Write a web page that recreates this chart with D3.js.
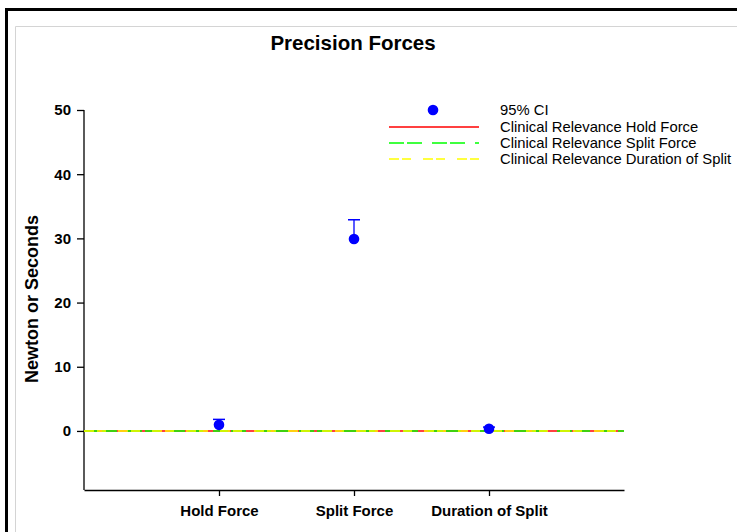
<!DOCTYPE html>
<html>
<head>
<meta charset="utf-8">
<script src="https://cdn.jsdelivr.net/npm/d3@7"></script>
<style>
  body { margin: 0; background: #fff; }
  text { font-family: Arial, "Liberation Sans", sans-serif; }
</style>
</head>
<body>
<svg id="chart" width="737" height="532"></svg>
<script>
var categories = ["Hold Force", "Split Force", "Duration of Split"];
var means = [0.95, 29.9, 0.35];
var upperCI = [1.8, 32.9, 0.6];
var yTicks = [0, 10, 20, 30, 40, 50];
var relevance = [
  { name: "Clinical Relevance Hold Force", value: 0, color: "#ff0000", dash: null },
  { name: "Clinical Relevance Split Force", value: 0, color: "#00ff00", dash: "15,3,15,10" },
  { name: "Clinical Relevance Duration of Split", value: 0, color: "#ffff00", dash: "10,3,9,12" }
];

var svg = d3.select("#chart");

// outer frame like the screenshot
svg.append("path")
  .attr("d", "M6.5,532 V9.5 H737")
  .attr("fill", "none")
  .attr("stroke", "#000")
  .attr("stroke-width", 3);
svg.append("path")
  .attr("d", "M15.5,532 V26.5 H737")
  .attr("fill", "none")
  .attr("stroke", "#d4d4d4")
  .attr("stroke-width", 1);

var xScale = d3.scaleLinear().domain([0, 4]).range([84, 624]);
var yScale = d3.scaleLinear().domain([-9.2, 50]).range([490, 110]);

svg.append("text")
  .attr("x", 353)
  .attr("y", 50)
  .attr("text-anchor", "middle")
  .style("font-size", "20.5px")
  .style("font-weight", "bold")
  .text("Precision Forces");

var yAxis = svg.append("g")
  .attr("transform", "translate(84,0)")
  .call(d3.axisLeft(yScale).tickValues(yTicks).tickSize(7).tickPadding(6).tickSizeOuter(0));

var xAxis = svg.append("g")
  .attr("transform", "translate(0,490)")
  .call(d3.axisBottom(xScale).tickValues([1, 2, 3])
    .tickFormat(function(d) { return categories[d - 1]; })
    .tickSize(6).tickPadding(9).tickSizeOuter(0));

[yAxis, xAxis].forEach(function(ax) {
  ax.select(".domain").attr("stroke", "#000").attr("stroke-width", 1.3);
  ax.selectAll(".tick line").attr("stroke", "#000").attr("stroke-width", 1.3);
  ax.selectAll(".tick text")
    .attr("fill", "#000")
    .style("font-size", "15px")
    .style("font-weight", "bold")
    .style("font-family", "Arial, 'Liberation Sans', sans-serif");
});
// y axis domain only spans top to bottom without outer tick
yAxis.select(".domain").attr("d", "M0," + yScale(50) + "V" + yScale(-9.2));

svg.append("text")
  .attr("transform", "rotate(-90)")
  .attr("x", -299)
  .attr("y", 38)
  .attr("text-anchor", "middle")
  .style("font-size", "18px")
  .style("font-weight", "bold")
  .text("Newton or Seconds");

// clinical relevance lines
svg.selectAll(".rel")
  .data(relevance)
  .enter().append("line")
  .attr("class", "rel")
  .attr("x1", xScale(0))
  .attr("x2", xScale(4))
  .attr("y1", d => yScale(d.value))
  .attr("y2", d => yScale(d.value))
  .attr("stroke", d => d.color)
  .attr("stroke-width", 1.5)
  .attr("stroke-dasharray", d => d.dash);

// error bars (upper only)
var pts = categories.map(function(c, i) { return { i: i + 1, mean: means[i], up: upperCI[i] }; });

svg.selectAll(".err")
  .data(pts)
  .enter().append("line")
  .attr("x1", d => xScale(d.i))
  .attr("x2", d => xScale(d.i))
  .attr("y1", d => yScale(d.mean))
  .attr("y2", d => yScale(d.up))
  .attr("stroke", "#0000ff")
  .attr("stroke-width", 1.3);

svg.selectAll(".cap")
  .data(pts)
  .enter().append("line")
  .attr("x1", d => xScale(d.i) - 6)
  .attr("x2", d => xScale(d.i) + 6)
  .attr("y1", d => yScale(d.up))
  .attr("y2", d => yScale(d.up))
  .attr("stroke", "#0000ff")
  .attr("stroke-width", 1.5);

svg.selectAll(".dot")
  .data(pts)
  .enter().append("circle")
  .attr("cx", d => xScale(d.i))
  .attr("cy", d => yScale(d.mean))
  .attr("r", 5.3)
  .attr("fill", "#0000ff");

// legend
var legend = svg.append("g");
var legendY = [110, 127, 143, 159];
legend.append("circle")
  .attr("cx", 433)
  .attr("cy", legendY[0])
  .attr("r", 5.3)
  .attr("fill", "#0000ff");
legend.selectAll(".lline")
  .data(relevance)
  .enter().append("line")
  .attr("x1", 389)
  .attr("x2", 479)
  .attr("y1", (d, i) => legendY[i + 1])
  .attr("y2", (d, i) => legendY[i + 1])
  .attr("stroke", d => d.color)
  .attr("stroke-width", 1.5)
  .attr("stroke-dasharray", d => d.dash);
legend.selectAll(".ltext")
  .data(["95% CI"].concat(relevance.map(d => d.name)))
  .enter().append("text")
  .attr("x", 500)
  .attr("y", (d, i) => legendY[i] + 5)
  .style("font-size", "14.8px")
  .text(d => d);
</script>
</body>
</html>
